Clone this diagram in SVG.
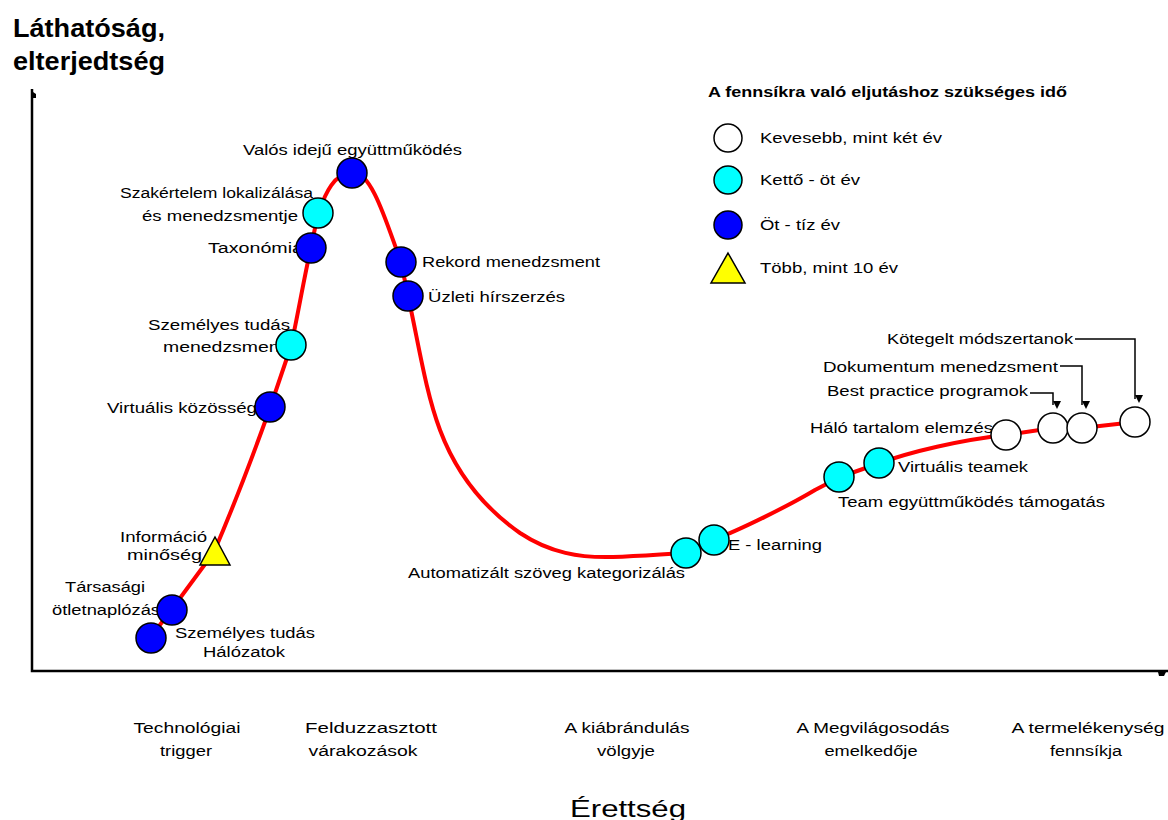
<svg xmlns="http://www.w3.org/2000/svg" width="1168" height="820" viewBox="0 0 1168 820">
  <style>
    text { font-family: "Liberation Sans", Arial, sans-serif; fill: #000; }
    .lbl { font-size: 14px; }
    .ax { font-size: 14px; text-anchor: middle; }
    .title { font-size: 26px; font-weight: bold; }
    .lgt { font-size: 14px; font-weight: bold; }
    .dot { stroke: #000; stroke-width: 1.5; }
    .w { fill: #fff; }
    .c { fill: #00ffff; }
    .b { fill: #0000ff; }
    .y { fill: #ffff00; stroke: #000; stroke-width: 1.5; stroke-linejoin: miter; }
    .curve { fill: none; stroke: #ff0000; stroke-width: 4; stroke-linejoin: round; stroke-linecap: round; }
    .lead { fill: none; stroke: #000; stroke-width: 1.5; }
    .axis { fill: none; stroke: #000; stroke-width: 2.5; }
  </style>
  <defs>
    <marker id="tip" viewBox="0 0 8 8" refX="4" refY="8" markerWidth="8" markerHeight="8" markerUnits="userSpaceOnUse" orient="auto-start-reverse">
      <path d="M0,0 L8,0 L4,8 Z" fill="#000" transform="rotate(-90 4 4)"/>
    </marker>
  </defs>

  <rect width="1168" height="820" fill="#fff"/>

  <!-- axis titles -->
  <g id="y-title">
    <text class="title" x="13" y="37" textLength="152" lengthAdjust="spacingAndGlyphs">Láthatóság,</text>
    <text class="title" x="13" y="70" textLength="152" lengthAdjust="spacingAndGlyphs">elterjedtség</text>
  </g>
  <g id="x-title">
    <text x="628" y="817" font-size="24" text-anchor="middle" textLength="116" lengthAdjust="spacingAndGlyphs">Érettség</text>
  </g>

  <!-- axes -->
  <g id="axes">
    <path class="axis" d="M32,89 L32,671 L1168,671"/>
    <polygon points="33,92 36,94 36,98 33,98" fill="#000"/>
    <polygon points="1158,672 1166,672 1164,676 1159,676" fill="#000"/>
  </g>

  <!-- phase labels along the maturity axis -->
  <g id="phases">
    <text class="ax" x="187" y="733" textLength="107" lengthAdjust="spacingAndGlyphs">Technológiai</text>
    <text class="ax" x="186" y="756" textLength="52" lengthAdjust="spacingAndGlyphs">trigger</text>
    <text class="ax" x="371" y="733" textLength="132" lengthAdjust="spacingAndGlyphs">Felduzzasztott</text>
    <text class="ax" x="363" y="756" textLength="109" lengthAdjust="spacingAndGlyphs">várakozások</text>
    <text class="ax" x="627" y="733" textLength="125" lengthAdjust="spacingAndGlyphs">A kiábrándulás</text>
    <text class="ax" x="626" y="756" textLength="58" lengthAdjust="spacingAndGlyphs">völgyje</text>
    <text class="ax" x="873" y="733" textLength="153" lengthAdjust="spacingAndGlyphs">A Megvilágosodás</text>
    <text class="ax" x="871" y="756" textLength="93" lengthAdjust="spacingAndGlyphs">emelkedője</text>
    <text class="ax" x="1088" y="733" textLength="153" lengthAdjust="spacingAndGlyphs">A termelékenység</text>
    <text class="ax" x="1086" y="756" textLength="72" lengthAdjust="spacingAndGlyphs">fennsíkja</text>
  </g>

  <!-- legend -->
  <g id="legend">
    <text class="lgt" x="708" y="97" textLength="359" lengthAdjust="spacingAndGlyphs">A fennsíkra való eljutáshoz szükséges idő</text>
    <circle class="dot w" cx="728" cy="138" r="14"/>
    <text class="lbl" x="760" y="143" textLength="182" lengthAdjust="spacingAndGlyphs">Kevesebb, mint két év</text>
    <circle class="dot c" cx="728" cy="180" r="14"/>
    <text class="lbl" x="760" y="185" textLength="100" lengthAdjust="spacingAndGlyphs">Kettő - öt év</text>
    <circle class="dot b" cx="728" cy="225" r="14"/>
    <text class="lbl" x="760" y="230" textLength="80" lengthAdjust="spacingAndGlyphs">Öt - tíz év</text>
    <polygon class="y" points="728,253 745,283 711,283"/>
    <text class="lbl" x="760" y="273" textLength="138" lengthAdjust="spacingAndGlyphs">Több, mint 10 év</text>
  </g>

  <!-- hype curve and leader lines -->
  <g id="connectors">
    <path class="curve" d="M150,638 L172,609 L214,552 C232,510 255,450 270,408 L291,346 C299,310 305,272 311,248 L318,213 C326,192 334,174 352,172 C372,170 388,228 401,262 L408,296 C418,340 425,390 440,430 C455,470 480,505 520,533 C550,553 580,558 613,557 C640,556 665,554 685,553 L713,540 C740,530 790,505 815,490 L840,477 L880,463 C910,452 960,440 1006,435 L1053,428 L1082,428 L1135,422"/>
    <path class="lead" d="M1030,393 L1053,393 L1053,405" marker-end="url(#tip)"/>
    <path class="lead" d="M1060,366 L1082,366 L1082,405" marker-end="url(#tip)"/>
    <path class="lead" d="M1075,339 L1135,339 L1135,399" marker-end="url(#tip)"/>
  </g>

  <!-- technologies on the curve -->
  <g id="n-szemelyes-halozatok">
    <text class="lbl" x="175" y="638" textLength="140" lengthAdjust="spacingAndGlyphs">Személyes tudás</text>
    <text class="lbl" x="203" y="657" textLength="82" lengthAdjust="spacingAndGlyphs">Hálózatok</text>
    <circle class="dot b" cx="151" cy="638" r="15"/>
  </g>
  <g id="n-tarsasagi">
    <text class="lbl" x="65" y="592" textLength="80" lengthAdjust="spacingAndGlyphs">Társasági</text>
    <text class="lbl" x="52" y="615" textLength="108" lengthAdjust="spacingAndGlyphs">ötletnaplózás</text>
    <circle class="dot b" cx="172" cy="610" r="15"/>
  </g>
  <g id="n-informacio">
    <text class="lbl" x="120" y="542" textLength="87" lengthAdjust="spacingAndGlyphs">Információ</text>
    <text class="lbl" x="127" y="560" textLength="75" lengthAdjust="spacingAndGlyphs">minőség</text>
    <polygon class="y" points="215,537 230,565 200,565"/>
  </g>
  <g id="n-virtualis-kozosseg">
    <text class="lbl" x="107" y="413" textLength="150" lengthAdjust="spacingAndGlyphs">Virtuális közösség</text>
    <circle class="dot b" cx="270" cy="407" r="15"/>
  </g>
  <g id="n-szemelyes-menedzsment">
    <text class="lbl" x="148" y="330" textLength="142" lengthAdjust="spacingAndGlyphs">Személyes tudás</text>
    <text class="lbl" x="163" y="352" textLength="122" lengthAdjust="spacingAndGlyphs">menedzsment</text>
    <circle class="dot c" cx="291" cy="345" r="15"/>
  </g>
  <g id="n-taxonomia">
    <text class="lbl" x="208" y="253" textLength="95" lengthAdjust="spacingAndGlyphs">Taxonómia</text>
    <circle class="dot b" cx="311" cy="248" r="15"/>
  </g>
  <g id="n-szakertelem">
    <text class="lbl" x="120" y="198" textLength="193" lengthAdjust="spacingAndGlyphs">Szakértelem lokalizálása</text>
    <text class="lbl" x="142" y="221" textLength="156" lengthAdjust="spacingAndGlyphs">és menedzsmentje</text>
    <circle class="dot c" cx="318" cy="213" r="15"/>
  </g>
  <g id="n-valos-ideju">
    <text class="lbl" x="243" y="155" textLength="219" lengthAdjust="spacingAndGlyphs">Valós idejű együttműködés</text>
    <circle class="dot b" cx="352" cy="173" r="15"/>
  </g>
  <g id="n-rekord">
    <text class="lbl" x="422" y="267" textLength="178" lengthAdjust="spacingAndGlyphs">Rekord menedzsment</text>
    <circle class="dot b" cx="401" cy="262" r="15"/>
  </g>
  <g id="n-uzleti">
    <text class="lbl" x="428" y="302" textLength="137" lengthAdjust="spacingAndGlyphs">Üzleti hírszerzés</text>
    <circle class="dot b" cx="408" cy="296" r="15"/>
  </g>
  <g id="n-automatizalt">
    <text class="lbl" x="408" y="578" textLength="277" lengthAdjust="spacingAndGlyphs">Automatizált szöveg kategorizálás</text>
    <circle class="dot c" cx="686" cy="553" r="15"/>
  </g>
  <g id="n-elearning">
    <circle class="dot c" cx="714" cy="540" r="15"/>
    <text class="lbl" x="728" y="550" textLength="94" lengthAdjust="spacingAndGlyphs">E - learning</text>
  </g>
  <g id="n-team">
    <text class="lbl" x="838" y="507" textLength="267" lengthAdjust="spacingAndGlyphs">Team együttműködés támogatás</text>
    <circle class="dot c" cx="839" cy="477" r="15"/>
  </g>
  <g id="n-virtualis-teamek">
    <circle class="dot c" cx="879" cy="463" r="15"/>
    <text class="lbl" x="898" y="472" textLength="130" lengthAdjust="spacingAndGlyphs">Virtuális teamek</text>
  </g>
  <g id="n-halo">
    <text class="lbl" x="810" y="433" textLength="183" lengthAdjust="spacingAndGlyphs">Háló tartalom elemzés</text>
    <circle class="dot w" cx="1006" cy="435" r="15"/>
  </g>
  <g id="n-best-practice">
    <text class="lbl" x="827" y="396" textLength="201" lengthAdjust="spacingAndGlyphs">Best practice programok</text>
    <circle class="dot w" cx="1053" cy="428" r="15"/>
  </g>
  <g id="n-dokumentum">
    <text class="lbl" x="823" y="372" textLength="235" lengthAdjust="spacingAndGlyphs">Dokumentum menedzsment</text>
    <circle class="dot w" cx="1082" cy="428" r="15"/>
  </g>
  <g id="n-kotegelt">
    <text class="lbl" x="887" y="344" textLength="186" lengthAdjust="spacingAndGlyphs">Kötegelt módszertanok</text>
    <circle class="dot w" cx="1135" cy="422" r="15"/>
  </g>
</svg>
